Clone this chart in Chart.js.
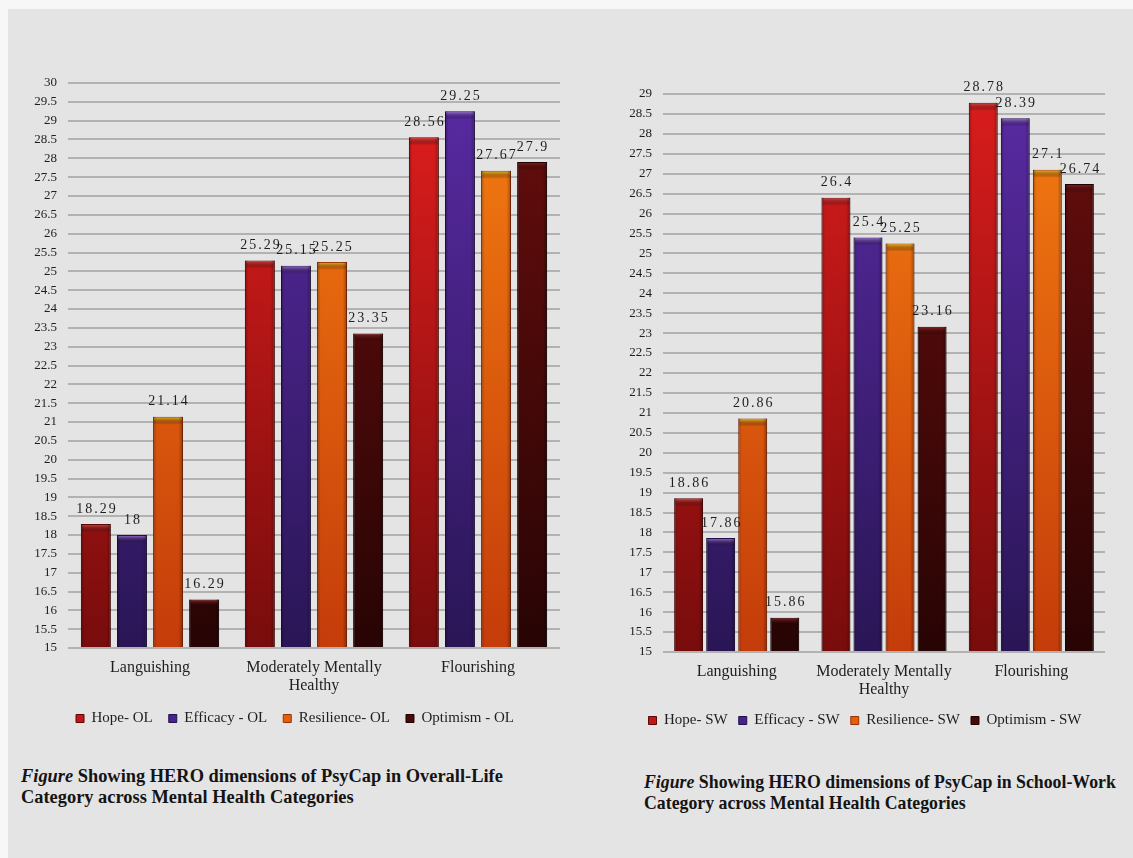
<!DOCTYPE html>
<html>
<head>
<meta charset="utf-8">
<script src="https://cdn.jsdelivr.net/npm/chart.js@4.4.1/dist/chart.umd.min.js"></script>
<style>
  html, body { margin: 0; padding: 0; background: #f7f7f7; width: 1133px; height: 858px; overflow: hidden; }
  #bg { position: absolute; left: 8px; top: 9px; width: 1125px; height: 849px; background: #e4e4e4; }
  .wrap { position: absolute; }
  #w1 { left: 0px; top: 60px; width: 570px; height: 686px; }
  #w2 { left: 590px; top: 60px; width: 525px; height: 688px; }
  .cap { position: absolute; font-family: "Liberation Serif", "DejaVu Serif", serif; font-size: 18.4px; font-weight: bold; color: #141414; line-height: 21px; white-space: nowrap; }
  .cap i { font-weight: bold; }
  #c1 { left: 21px; top: 766px; }
  #c2 { left: 644px; top: 772px; font-size: 17.8px; }
</style>
</head>
<body>
<div id="bg"></div>
<div class="wrap" id="w1"><canvas id="chart1"></canvas></div>
<div class="wrap" id="w2"><canvas id="chart2"></canvas></div>
<div class="cap" id="c1"><i>Figure</i> Showing HERO dimensions of PsyCap in Overall-Life<br>Category across Mental Health Categories</div>
<div class="cap" id="c2"><i>Figure</i> Showing HERO dimensions of PsyCap in School-Work<br>Category across Mental Health Categories</div>
<script>
// ---- data ----
const categories = ["Languishing", ["Moderately Mentally", "Healthy"], "Flourishing"];

const seriesNamesOL = ["Hope- OL", "Efficacy - OL", "Resilience- OL", "Optimism - OL"];
const hopeOL       = [18.29, 25.29, 28.56];
const efficacyOL   = [18, 25.15, 29.25];
const resilienceOL = [21.14, 25.25, 27.67];
const optimismOL   = [16.29, 23.35, 27.9];

const seriesNamesSW = ["Hope- SW", "Efficacy - SW", "Resilience- SW", "Optimism - SW"];
const hopeSW       = [18.86, 26.4, 28.78];
const efficacySW   = [17.86, 25.4, 28.39];
const resilienceSW = [20.86, 25.25, 27.1];
const optimismSW   = [15.86, 23.16, 26.74];

const yMinOL = 15, yMaxOL = 30, yStepOL = 0.5;
const yMinSW = 15, yMaxSW = 29, yStepSW = 0.5;

// ---- styles ----
const baseColors = ["#c41616", "#46248e", "#e0600c", "#4a0808"];
const topColors  = ["#d81c1c", "#57299f", "#ee7410", "#600c0c"];
const botColors  = ["#780c0c", "#2a1656", "#c43c0a", "#280404"];
const capColors  = ["#f04a4a", "#a87ae8", "#f8cc22", "#9a2222"];
const edgeColors = ["#5a0808", "#22104a", "#9a3006", "#1e0202"];

const SERIF = '"Liberation Serif", "DejaVu Serif", serif';

const barStylePlugin = {
  id: 'barStyle',
  beforeDatasetsDraw(chart) {
    const ctx = chart.ctx;
    const bottom = chart.chartArea.bottom;
    chart.data.datasets.forEach((ds, i) => {
      const meta = chart.getDatasetMeta(i);
      meta.data.forEach(el => {
        const b = Math.min(el.base, bottom);
        const g = ctx.createLinearGradient(0, el.y, 0, b);
        g.addColorStop(0, topColors[i]);
        g.addColorStop(1, botColors[i]);
        el.options.backgroundColor = g;
      });
    });
  },
  afterDatasetsDraw(chart) {
    const ctx = chart.ctx;
    const bottom = chart.chartArea.bottom;
    chart.data.datasets.forEach((ds, i) => {
      const meta = chart.getDatasetMeta(i);
      meta.data.forEach((el, j) => {
        const w = el.width;
        const x0 = el.x - w / 2;
        const b = Math.min(el.base, bottom);
        ctx.save();
        // top cap highlight
        const g = ctx.createLinearGradient(0, el.y, 0, el.y + 8);
        g.addColorStop(0, capColors[i]);
        g.addColorStop(1, 'rgba(0,0,0,0)');
        ctx.fillStyle = g;
        ctx.fillRect(x0 + 1, el.y + 1, w - 2, 8);
        // side shading
        const hg = ctx.createLinearGradient(x0, 0, x0 + w, 0);
        hg.addColorStop(0, 'rgba(0,0,0,0.28)');
        hg.addColorStop(0.12, 'rgba(0,0,0,0)');
        hg.addColorStop(0.85, 'rgba(0,0,0,0)');
        hg.addColorStop(1, 'rgba(0,0,0,0.32)');
        ctx.fillStyle = hg;
        ctx.fillRect(x0, el.y, w, b - el.y);
        // value label
        ctx.font = '14px ' + SERIF;
        ctx.letterSpacing = '2px';
        ctx.fillStyle = '#1e1e1e';
        ctx.textAlign = 'center';
        ctx.textBaseline = 'bottom';
        ctx.fillText(String(ds.data[j]), el.x + 1, el.y - 8);
        ctx.restore();
      });
    });
  }
};

function makeChart(id, names, series, yMin, yMax, yStep, pad, catPct, barPct, yWidth, xHeight, legendPad) {
  const datasets = series.map((vals, i) => ({
    label: names[i],
    data: vals,
    base: yMin,
    backgroundColor: baseColors[i],
    borderColor: edgeColors[i],
    borderWidth: 1,
    categoryPercentage: catPct,
    barPercentage: barPct
  }));
  return new Chart(document.getElementById(id), {
    type: 'bar',
    data: { labels: categories, datasets },
    plugins: [barStylePlugin],
    options: {
      responsive: true,
      maintainAspectRatio: false,
      animation: false,
      layout: { padding: pad },
      plugins: {
        legend: {
          position: 'bottom',
          labels: {
            boxWidth: 8, boxHeight: 8, padding: legendPad,
            color: '#1e1e1e',
            font: { family: SERIF, size: 15 }
          }
        },
        tooltip: { enabled: false }
      },
      scales: {
        x: {
          grid: { display: false, drawTicks: false },
          border: { display: false },
          ticks: { color: '#1e1e1e', font: { family: SERIF, size: 16, lineHeight: 1.1 }, padding: 11, maxRotation: 0, autoSkip: false },
          afterFit(scale) { scale.height = xHeight; }
        },
        y: {
          min: yMin, max: yMax,
          grid: { color: '#b2b2b2', lineWidth: 2, drawTicks: false },
          border: { display: false },
          ticks: {
            stepSize: yStep, color: '#1e1e1e', font: { family: SERIF, size: 13 }, padding: 11, autoSkip: false,
            callback: (v) => String(Math.round(v * 10) / 10)
          },
          afterFit(scale) { scale.width = yWidth; }
        }
      }
    }
  });
}

makeChart('chart1', seriesNamesOL, [hopeOL, efficacyOL, resilienceOL, optimismOL], yMinOL, yMaxOL, yStepOL,
  { left: 30, right: 10, top: 23, bottom: 10 }, 0.88, 0.83, 38, 47, 16);
makeChart('chart2', seriesNamesSW, [hopeSW, efficacySW, resilienceSW, optimismSW], yMinSW, yMaxSW, yStepSW,
  { left: 35, right: 10, top: 34, bottom: 10 }, 0.87, 0.9, 38, 50, 11);
</script>
</body>
</html>
